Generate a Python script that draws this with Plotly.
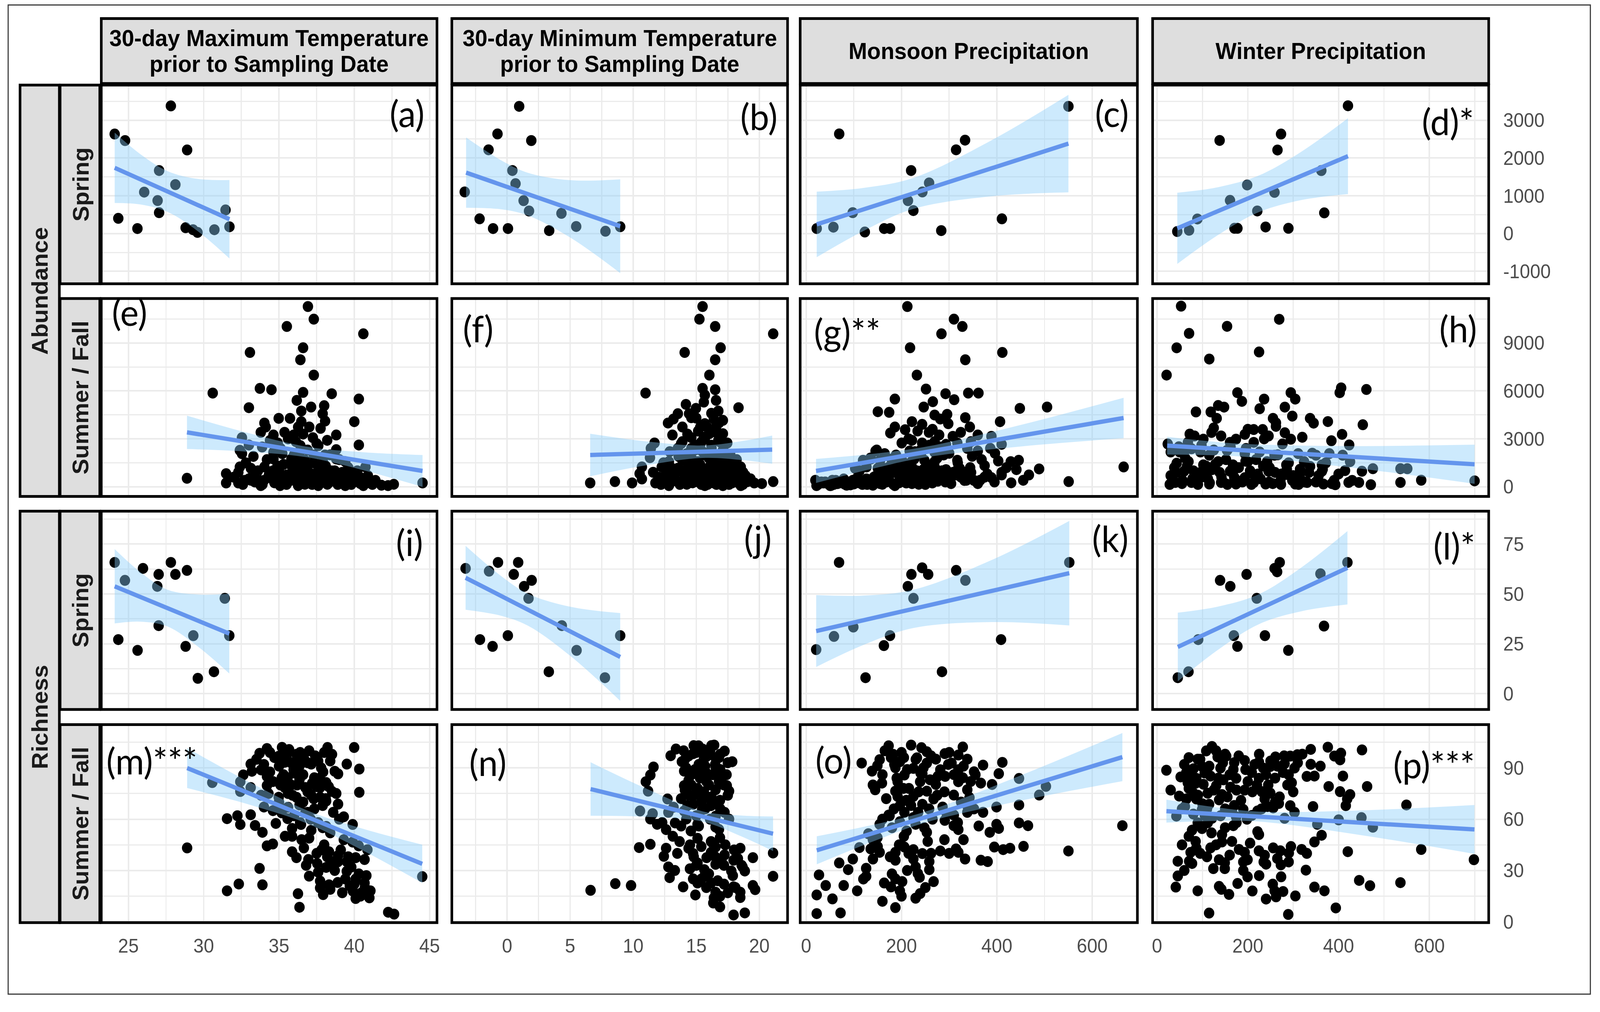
import plotly.graph_objects as go

# ---------------- text ----------------
col_titles = [["30-day Maximum Temperature", "prior to Sampling Date"],
              ["30-day Minimum Temperature", "prior to Sampling Date"],
              ["Monsoon Precipitation"],
              ["Winter Precipitation"]]
row_groups = ["Abundance", "Richness"]
row_seasons = ["Spring", "Summer / Fall", "Spring", "Summer / Fall"]
panel_labels = ["(a)", "(b)", "(c)", "(d)*", "(e)", "(f)", "(g)**", "(h)",
                "(i)", "(j)", "(k)", "(l)*", "(m)***", "(n)", "(o)", "(p)***"]

# ---------------- ticks ----------------
x_ticks = [[25, 30, 35, 40, 45], [0, 5, 10, 15, 20], [0, 200, 400, 600], [0, 200, 400, 600]]
x_minor = [[27.5, 32.5, 37.5, 42.5], [-2.5, 2.5, 7.5, 12.5, 17.5], [100, 300, 500], [100, 300, 500, 700]]
y_ticks = [[-1000, 0, 1000, 2000, 3000], [0, 3000, 6000, 9000], [0, 25, 50, 75], [0, 30, 60, 90]]
y_minor = [[-500, 500, 1500, 2500, 3500], [1500, 4500, 7500, 10500], [12.5, 37.5, 62.5, 87.5], [15, 45, 75, 105]]
x_ranges = [[23.2, 45.49], [-4.38, 22.24], [-12.45, 694.7], [-9.8, 730.8]]
y_ranges = [[-1330, 3930], [-605, 11783], [-7.95, 91.5], [-0.45, 115.3]]

# ---------------- Spring abundance ----------------
a_x = [27.82, 24.09, 24.78, 28.9, 27.04, 28.12, 26.05, 26.94, 27.04, 24.33, 25.6, 28.8, 29.29, 29.59, 30.71, 31.45, 31.71]
a_y = [3378, 2634, 2461, 2212, 1668, 1295, 1097, 873, 552, 402, 133, 154, 102, 30, 102, 625, 179]
a_fx = [24.09, 25.8, 27.6, 29.6, 31.71]
a_fy = [1740, 1435, 1113, 756, 379]
a_lo = [810, 770, 573, 65, -659]
a_hi = [2670, 2100, 1653, 1447, 1417]

b_x = [0.96, -0.76, 1.92, -1.47, 0.42, 0.67, -3.36, 1.31, 1.74, 4.31, -2.18, -1.11, 0.07, 3.34, 5.48, 7.8, 8.97]
b_y = [3367, 2637, 2461, 2216, 1668, 1320, 1101, 870, 597, 534, 389, 133, 133, 78, 187, 61, 180]
b_fx = [-3.25, -0.5, 1.65, 5.0, 8.97]
b_fy = [1613, 1294, 1044, 655, 194]
b_lo = [683, 643, 479, -103, -1046]
b_hi = [2543, 1945, 1609, 1413, 1434]

c_x = [550.1, 69.4, 333.3, 314.5, 220.2, 257.9, 243.8, 213.6, 224.9, 97.7, 410.6, 22.2, 57.2, 123.1, 163.7, 176.0, 283.4]
c_y = [3367, 2637, 2472, 2216, 1668, 1339, 1101, 870, 608, 553, 389, 133, 169, 41, 133, 133, 78]
c_fx = [22.2, 120, 225, 390, 550.1]
c_fy = [242, 638, 1064, 1732, 2381]
c_lo = [-626, 68, 654, 987, 1090]
c_hi = [1110, 1208, 1474, 2477, 3672]

d_x = [420.7, 137.9, 273.2, 265.4, 362.0, 198.6, 258.8, 160.8, 220.9, 368.5, 88.9, 44.6, 70.6, 170.6, 177.1, 239.2, 289.5]
d_y = [3382, 2465, 2634, 2211, 1667, 1286, 1090, 878, 598, 547, 386, 54, 88, 139, 139, 174, 139]
d_fx = [44.6, 135, 225, 320, 420.7]
d_fy = [139, 598, 1055, 1537, 2049]
d_lo = [-803, -33, 570, 891, 1045]
d_hi = [1081, 1229, 1540, 2183, 3053]

# ---------------- Summer / Fall abundance ----------------
e_x = [36.92, 37.31, 35.52, 40.6, 36.6, 33.07, 36.42, 37.31, 30.6, 33.73,
       34.5, 36.6, 38.5, 40.3, 36.18, 33.0, 37.13, 38.0, 36.48, 37.9,
       34.98, 35.73, 40.0, 34.03, 36.48, 37.76, 34.12, 38.8, 32.54, 33.79,
       35.37, 35.97, 37.25, 38.2, 40.3, 33.0, 33.88, 38.8, 32.4, 32.54,
       34.63, 35.22, 36.27, 37.31, 38.06, 34.63, 35.82, 36.72, 37.91, 39.4,
       40.74, 32.4, 33.13, 34.03, 34.92, 35.82, 36.72, 37.61, 38.5, 39.7,
       31.49, 32.3, 33.28, 34.33, 35.52, 36.42, 37.31, 38.21, 39.25, 40.3,
       28.89, 31.49, 32.3, 33.79, 33.79, 34.63, 35.52, 36.27, 37.01, 37.61,
       38.21, 38.95, 39.4, 40.0, 40.6, 41.04, 42.24, 42.62, 44.53, 36.72,
       35.07, 35.82, 33.13, 37.16, 38.5, 39.85, 38.8, 36.12, 36.42, 37.61,
       34.92, 34.63, 37.01, 38.06, 36.27]
e_y = [11281, 10490, 10032, 9574, 8698, 8407, 7949, 6990, 5866, 6157,
       6074, 5907, 5824, 5491, 5407, 4949, 4991, 5074, 4741, 4574,
       4283, 4283, 4075, 3991, 4075, 3658, 3741, 3241, 3074, 3408,
       3408, 3241, 3074, 2908, 2616, 2616, 2491, 2325, 2283, 2075,
       2158, 2075, 2075, 1991, 1991, 1741, 1741, 1658, 1575, 1575,
       1241, 1241, 1158, 1241, 1158, 1325, 1241, 1075, 991, 908,
       825, 908, 741, 741, 741, 658, 741, 658, 741, 658,
       533, 241, 241, 241, 75, 408, 241, 75, 241, 75,
       158, 325, 75, 325, 75, 241, 75, 158, 241, 158,
       75, 408, 408, 491, 491, 491, 1741, 2825, 2575, 2575,
       2741, 3241, 3741, 4116, 3741]
e2_x = [32.0, 32.8, 33.3, 33.6, 34.2, 34.4, 34.8, 35.1, 35.3, 35.6,
        35.9, 36.0, 36.3, 36.6, 36.9, 37.0, 37.3, 37.5, 37.8, 38.1,
        38.4, 38.7, 39.0, 39.3, 39.6, 39.9, 40.2, 40.5, 34.0, 35.0,
        36.1, 36.8, 37.4, 38.0, 33.4, 32.7, 38.6, 39.1, 41.4, 41.8,
        40.9, 35.6, 34.6, 36.5, 37.9]
e2_y = [600, 1500, 1900, 1000, 1700, 2900, 500, 2400, 1400, 3000,
        900, 2000, 1200, 3300, 2300, 900, 1500, 2700, 600, 1300,
        2000, 1000, 1700, 300, 1200, 700, 1000, 400, 400, 1000,
        400, 500, 300, 400, 300, 400, 800, 500, 400, 100,
        700, 600, 1000, 1600, 1100]
e3_x = [32.6, 33.0, 33.5, 33.9, 34.3, 34.7, 35.2, 35.5, 35.9, 36.2,
        36.5, 36.9, 37.2, 37.6, 37.9, 38.3, 38.6, 38.9, 39.2, 39.5,
        39.8, 40.1, 40.4, 40.8, 41.2, 34.9, 35.9, 36.8, 37.9, 36.4]
e3_y = [150, 500, 800, 150, 600, 250, 700, 150, 500, 850,
        250, 700, 150, 550, 850, 250, 600, 150, 900, 450,
        150, 600, 200, 450, 150, 1300, 1500, 1100, 1700, 2200]
e_fx = [28.89, 33, 36.9, 40.5, 44.53]
e_fy = [3409, 2774, 2171, 1615, 992]
e_lo = [2367, 2191, 1841, 1062, -5]
e_hi = [4451, 3357, 2501, 2168, 1989]

f_x = [15.5, 15.25, 16.5, 21.1, 16.93, 14.08, 16.5, 16.04, 10.98, 15.5,
       16.5, 15.68, 16.57, 14.18, 18.35, 14.97, 16.75, 13.54, 14.61, 16.39,
       12.76, 15.68, 13.9, 16.57, 15.15, 17.11, 13.11, 14.61, 15.68, 16.75,
       13.9, 11.69, 15.32, 17.46, 11.4, 13.54, 14.97, 16.21, 17.11, 14.25,
       15.68, 16.75, 11.33, 12.83, 13.9, 15.15, 16.39, 17.46, 10.69, 12.26,
       13.54, 14.79, 16.04, 17.28, 18.53, 10.51, 11.58, 12.83, 14.08, 15.32,
       16.57, 17.82, 18.71, 6.59, 8.55, 9.91, 10.69, 11.76, 12.83, 13.54,
       14.25, 14.97, 15.68, 16.39, 17.11, 17.82, 18.53, 19.07, 19.6, 21.1,
       16.93, 14.61, 12.26, 15.5, 13.19, 15.68, 18.0, 14.61, 16.04, 15.32,
       17.11, 13.19, 14.43]
f_y = [11281, 10490, 10032, 9574, 8698, 8407, 7949, 6990, 5866, 6157,
       6074, 5741, 5407, 5157, 4949, 4907, 4741, 4574, 4324, 4241,
       3991, 3950, 3741, 3741, 3491, 3324, 3241, 3074, 2991, 2908,
       2825, 2741, 2658, 2741, 2408, 2408, 2325, 2408, 2283, 2075,
       1991, 1908, 1825, 1575, 1658, 1575, 1491, 1658, 1241, 1241,
       1158, 1241, 1241, 1158, 1241, 825, 908, 825, 741, 825,
       741, 825, 908, 241, 325, 241, 491, 241, 75, 325,
       158, 325, 75, 241, 75, 241, 75, 325, 241, 325,
       491, 491, 491, 575, 991, 991, 1325, 2408, 3324, 3741,
       4158, 4241, 4574]
f2_x = [12.0, 12.4, 12.9, 13.3, 13.6, 13.8, 14.0, 14.3, 14.5, 14.7,
        14.9, 15.1, 15.3, 15.5, 15.6, 15.8, 16.0, 16.2, 16.4, 16.6,
        16.8, 17.0, 17.2, 17.4, 17.6, 17.9, 18.2, 18.4, 18.9, 19.3,
        20.2, 13.0, 14.2, 15.9, 16.9, 15.0, 16.2, 15.6, 14.4, 17.7]
f2_y = [600, 1500, 2200, 400, 1900, 2700, 1000, 3300, 600, 1700,
        2600, 400, 1400, 2200, 3100, 700, 1800, 2600, 1000, 3400,
        500, 1500, 2200, 800, 1300, 500, 1700, 500, 700, 500,
        200, 1200, 200, 150, 2800, 4300, 4600, 5300, 1300, 2000]
f3_x = [12.2, 12.6, 13.0, 13.4, 13.7, 14.1, 14.4, 14.7, 15.0, 15.2,
        15.4, 15.7, 15.9, 16.1, 16.3, 16.6, 16.8, 17.1, 17.3, 17.6,
        17.9, 18.1, 18.4, 18.7, 19.0, 14.6, 15.4, 16.5, 15.9, 16.8]
f3_y = [150, 800, 300, 900, 150, 600, 1000, 250, 800, 1200,
        150, 500, 1000, 300, 700, 150, 1100, 400, 900, 150,
        1000, 300, 900, 150, 400, 2100, 2800, 1900, 3700, 4000]
f_fx = [6.59, 11, 15.5, 18.5, 21.02]
f_fy = [1991, 2093, 2197, 2266, 2325]
f_lo = [658, 1340, 1807, 1686, 1444]
f_hi = [3324, 2846, 2587, 2846, 3206]

g_x = [212.3, 310, 327.6, 283.8, 218, 411.5, 333.8, 232.3, 251.4, 292.4,
       340, 361.4, 186.1, 310.5, 265.7, 246.6, 150.4, 174.2, 448.2, 505.3,
       269.5, 295.7, 333.8, 406.7, 281.4, 221.9, 243.3, 298.1, 186.1, 343.3,
       207.6, 233.8, 176.6, 257.6, 279, 324.3, 307.6, 360, 388.6, 200.5,
       221.9, 243.3, 269.5, 293.3, 317.1, 345.7, 386.2, 410, 145.6, 164.7,
       188.5, 217.1, 240.9, 269.5, 288.6, 360, 348.1, 119.4, 136.1, 155.2,
       179, 202.8, 226.6, 248.1, 269.5, 317.1, 402.9, 429.1, 445.8, 102.8,
       126.6, 150.4, 174.2, 198.1, 221.9, 245.7, 269.5, 293.3, 321.9, 374.3,
       441, 488.6, 665.9, 21.8, 36.1, 50.4, 67, 81.3, 98, 112.3,
       126.6, 145.6, 159.9, 174.2, 186.1, 198.1, 210, 221.9, 236.2, 250.4,
       264.7, 279, 298.1, 314.8, 336.2, 364.8, 388.6, 410, 455.3, 467.2,
       550.6, 19.4, 55.1, 78.9, 107.5, 164.7, 260, 331.4, 240.9, 281.4]
g_y = [11281, 10490, 10032, 9574, 8698, 8407, 7949, 6990, 6116, 5824,
       5866, 5866, 5491, 5449, 5324, 4991, 4699, 4658, 4908, 4991,
       4491, 4532, 4324, 4075, 4241, 4075, 3908, 3950, 3741, 3741,
       3574, 3491, 3366, 3408, 3241, 3408, 3158, 3241, 3158, 2741,
       2908, 2741, 2825, 2658, 2741, 2825, 2408, 2658, 2241, 2075,
       1991, 2241, 2075, 2158, 1991, 2241, 1908, 1658, 1741, 1658,
       1741, 1575, 1741, 1658, 1575, 1658, 1616, 1575, 1658, 1158,
       1241, 1158, 1241, 1075, 1241, 1075, 1241, 1075, 1158, 1325,
       1075, 1116, 1241, 75, 241, 75, 325, 158, 408, 241,
       491, 658, 158, 408, 75, 575, 241, 741, 158, 491,
       241, 741, 575, 741, 408, 408, 575, 741, 408, 741,
       325, 408, 408, 491, 575, 825, 908, 908, 2325, 2491]
g2_x = [25, 32, 45, 58, 62, 74, 88, 93, 105, 118,
        130, 140, 152, 160, 168, 182, 190, 195, 205, 215,
        228, 232, 245, 252, 258, 266, 275, 285, 292, 300,
        308, 318, 325, 338, 344, 352, 368, 380, 396, 420,
        135, 112, 148, 215, 265]
g2_y = [150, 300, 200, 150, 400, 250, 300, 120, 250, 150,
        300, 100, 400, 1200, 300, 900, 1500, 250, 1300, 600,
        2200, 1000, 400, 1400, 2600, 700, 1800, 1000, 300, 2100,
        900, 1500, 600, 2400, 1200, 400, 1700, 800, 2100, 1200,
        1800, 1000, 2300, 3000, 3600]
g3_x = [40, 52, 66, 85, 100, 115, 128, 142, 155, 170,
        183, 196, 208, 222, 236, 250, 262, 276, 290, 304,
        318, 332, 346, 360, 374, 395, 410, 430, 222, 280]
g3_y = [300, 80, 200, 100, 180, 400, 150, 600, 200, 700,
        150, 500, 900, 200, 700, 150, 1000, 350, 800, 200,
        1100, 400, 900, 200, 600, 300, 900, 250, 1600, 2300]
g_fx = [20.8, 135, 250, 450, 665.8]
g_fy = [992, 1579, 2170, 3198, 4307]
g_lo = [242, 1106, 1840, 2524, 3040]
g_hi = [1742, 2052, 2500, 3872, 5574]

h_x = [53, 70.6, 43.2, 154.3, 269.2, 115.1, 224.8, 21, 177.1, 405.7,
       461.3, 402.5, 294.7, 304.5, 186.9, 235.9, 134.7, 147.7, 85.7, 118.3,
       226.1, 281.6, 131.4, 255.5, 298, 337.2, 376.4, 345, 453.4, 124.9,
       213, 262, 193.4, 232.7, 281.6, 82.4, 102, 141.2, 173.9, 245.7,
       294.7, 407.7, 68, 160.8, 213, 384.2, 276.4, 423.4, 30.1, 49.7,
       75.9, 95.5, 115.1, 154.3, 193.4, 226.1, 258.8, 311, 350.2, 379.6,
       409, 43.2, 69.3, 102, 134.7, 167.3, 200, 242.4, 284.9, 324,
       363.3, 425.3, 59.5, 92.2, 121.6, 160.8, 206.5, 245.7, 284.9, 337.2,
       363.3, 414.2, 451.5, 475.6, 536.4, 551.4, 40, 75.9, 115.1, 141.2,
       173.9, 213, 239.2, 271.8, 304.5, 330.6, 366.5, 392.7, 422.1, 444.9,
       471.1, 536.4, 582.1, 699.7, 23.6, 193.4, 314.3, 95.5]
h_y = [11305, 9600, 8697, 10041, 10482, 7995, 8436, 6992, 5889, 6190,
       6089, 5889, 5889, 5488, 5347, 5488, 5087, 4986, 4685, 4685,
       4886, 4986, 4284, 4284, 4424, 4284, 4083, 3983, 3883, 3682,
       3582, 3782, 3281, 3582, 3381, 3181, 2980, 3181, 2980, 3181,
       2980, 3281, 2779, 2779, 2779, 2879, 2679, 2619, 2177, 2177,
       2378, 2177, 1977, 2278, 2077, 2177, 1977, 2077, 1977, 2077,
       1977, 1475, 1576, 1375, 1576, 1375, 1576, 1576, 1375, 1576,
       1375, 1576, 974, 873, 1074, 974, 873, 974, 773, 1275,
       974, 1014, 974, 1134, 1134, 1134, 272, 272, 171, 272,
       171, 272, 171, 372, 171, 272, 171, 131, 272, 272,
       131, 272, 412, 372, 2679, 572, 673, 572]
h2_x = [30, 38, 48, 56, 62, 80, 88, 98, 108, 112,
        125, 138, 146, 152, 162, 170, 180, 188, 196, 205,
        218, 228, 236, 248, 255, 266, 274, 290, 298, 315,
        325, 342, 356, 372, 390, 120, 200, 72, 262, 320]
h2_y = [700, 1200, 2500, 400, 1800, 1000, 300, 2600, 1300, 500,
        2300, 900, 300, 1700, 2500, 600, 1200, 300, 2400, 1000,
        1700, 500, 3000, 1200, 200, 2000, 800, 1500, 400, 1100,
        300, 2100, 700, 1500, 400, 3400, 3600, 3300, 4000, 3100]
h3_x = [28, 42, 55, 66, 78, 90, 103, 116, 128, 142,
        155, 168, 182, 195, 208, 222, 234, 247, 260, 273,
        286, 300, 312, 335, 350, 365, 385, 400, 430, 60]
h3_y = [150, 900, 200, 1300, 500, 150, 900, 250, 1400, 600,
        150, 1000, 350, 1600, 150, 800, 1300, 300, 900, 150,
        1100, 700, 150, 900, 300, 1100, 200, 800, 400, 2200]
h_fx = [22.3, 110, 190, 420, 699.7]
h_fy = [2574, 2423, 2286, 1891, 1411]
h_lo = [2022, 1984, 1886, 1233, 187]
h_hi = [3126, 2862, 2686, 2549, 2635]

# ---------------- Spring richness ----------------
i_x = [24.09, 24.77, 25.97, 27.01, 27.82, 28.12, 28.89, 26.92, 31.4, 27.01, 24.33, 29.31, 31.7, 25.61, 28.8, 30.68, 29.61]
i_y = [65.8, 56.8, 62.8, 59.8, 65.8, 59.8, 61.8, 53.8, 47.8, 34.1, 27.1, 29.1, 29.1, 21.7, 23.7, 11.0, 7.7]
i_fx = [24.09, 25.8, 27.6, 29.6, 31.7]
i_fy = [53.8, 48.5, 42.9, 36.7, 30.1]
i_lo = [35.2, 36.1, 33.7, 23.7, 10.1]
i_hi = [72.5, 60.9, 52.1, 49.7, 50.1]

j_x = [-3.29, -1.43, -0.72, 0.88, 0.53, 1.95, 1.35, 1.7, 4.34, -2.15, 0.06, -1.15, 8.97, 5.51, 3.31, 7.76]
j_y = [62.8, 61.4, 65.8, 65.8, 59.8, 56.8, 53.8, 47.8, 34.1, 27.1, 29.1, 23.7, 29.1, 21.7, 11.0, 8.0]
j_fx = [-3.29, -0.5, 1.65, 5.0, 8.97]
j_fy = [58.1, 49.1, 42.1, 31.3, 18.4]
j_lo = [42.1, 39.1, 34.1, 19.0, -3.6]
j_hi = [74.1, 59.1, 50.1, 43.6, 40.4]

k_x = [69.1, 551.9, 243.3, 220.8, 256.0, 314.7, 334.0, 213.3, 225.1, 99.0, 58.4, 175.9, 408.8, 21.1, 163.1, 284.9, 124.6]
k_y = [65.8, 65.8, 63.1, 59.8, 59.8, 61.8, 56.8, 53.8, 47.8, 33.4, 28.7, 29.1, 27.1, 22.1, 24.1, 11.0, 8.0]
k_fx = [21.1, 120, 225, 390, 551.9]
k_fy = [31.4, 36.8, 42.5, 51.5, 60.4]
k_lo = [13.4, 24.4, 32.9, 35.9, 34.2]
k_hi = [49.4, 49.2, 52.1, 67.1, 86.6]

l_x = [419.5, 270.3, 259.0, 264.6, 360.0, 197.3, 138.9, 161.4, 219.7, 367.9, 169.2, 237.7, 90.7, 177.1, 289.3, 69.3, 45.7]
l_y = [65.8, 65.8, 62.8, 61.1, 60.1, 59.8, 56.8, 53.8, 47.8, 33.9, 29.1, 29.1, 27.1, 23.7, 21.7, 11.0, 8.0]
l_fx = [45.7, 135, 225, 320, 419.5]
l_fy = [23.4, 32.9, 42.4, 52.5, 63.1]
l_lo = [6.2, 22.1, 34.9, 41.4, 44.7]
l_hi = [40.6, 43.7, 49.9, 63.6, 81.5]

# ---------------- Summer / Fall richness ----------------
m_x = [34.2, 33.71, 35.67, 38.22, 39.99, 38.52, 34.98, 36.16, 36.65, 35.38,
       37.14, 33.12, 39.5, 40.33, 33.81, 34.4, 35.97, 37.93, 32.63, 38.92,
       35.18, 36.36, 37.34, 38.13, 30.57, 32.43, 34.2, 35.38, 36.75, 37.73,
       40.33, 38.52, 33.12, 32.43, 33.81, 34.98, 36.16, 37.14, 38.13, 38.92,
       36.36, 34.0, 34.98, 37.34, 39.3, 39.89, 31.55, 32.24, 33.12, 32.43,
       33.41, 34.79, 35.57, 35.87, 36.46, 37.14, 38.13, 33.9, 35.87, 37.0,
       39.89, 40.29, 40.87, 28.9, 34.2, 34.59, 35.87, 36.65, 37.83, 38.32,
       38.92, 36.16, 36.95, 37.54, 38.52, 39.5, 40.09, 40.68, 38.13, 33.71,
       37.0, 39.5, 40.09, 44.51, 37.73, 38.32, 39.7, 40.68, 41.07, 40.48,
       40.09, 32.33, 33.9, 31.55, 36.26, 37.93, 36.36, 42.25, 42.64, 37.73,
       35.18, 36.75, 37.73, 35.57, 36.36]
m_y = [101.3, 98.5, 100.7, 101.9, 101.9, 97.9, 96.8, 97.9, 95.6, 93.3,
       92.2, 92.2, 92.2, 89.3, 88.8, 87.6, 88.8, 87.6, 85.9, 86.5,
       84.2, 83.1, 84.2, 81.4, 81.4, 81.9, 79.7, 78.5, 78.5, 78.5,
       75.7, 76.2, 78.5, 76.2, 74.0, 72.8, 72.8, 74.0, 70.6, 68.8,
       68.3, 67.1, 68.3, 66.0, 61.4, 56.9, 60.3, 62.0, 62.6, 56.9,
       56.3, 57.5, 60.3, 54.6, 56.9, 53.5, 55.8, 52.3, 50.0, 48.9,
       46.6, 44.4, 42.1, 43.2, 44.4, 45.5, 40.9, 43.2, 42.1, 40.9,
       38.7, 37.5, 36.4, 34.1, 35.2, 35.2, 37.5, 36.4, 31.8, 31.2,
       26.7, 29.5, 25.0, 26.4, 23.8, 21.6, 21.0, 22.7, 18.1, 17.0,
       13.6, 22.1, 21.6, 18.1, 16.4, 15.9, 8.5, 5.6, 4.5, 19.8,
       63.7, 63.7, 72.8, 84.2, 91.1]
m2_x = [33.5, 34.4, 35.0, 35.5, 36.0, 36.4, 36.9, 37.4, 37.8, 38.4,
        34.6, 35.3, 35.8, 36.6, 37.2, 37.7, 38.3, 38.8, 34.3, 35.0,
        35.9, 36.6, 37.3, 37.9, 38.6, 39.0, 36.0, 36.9, 37.6, 38.4,
        36.5, 37.5, 38.0, 38.7, 39.1, 39.4, 39.8, 40.3, 40.7, 41.0,
        40.4, 39.9, 38.9, 37.6, 36.8, 35.4]
m2_y = [95, 99, 91, 97, 87, 99, 93, 97, 90, 94,
        82, 86, 80, 86, 81, 84, 79, 75, 75, 70,
        74, 70, 72, 68, 64, 60, 62, 64, 58, 52,
        48, 40, 45, 30, 42, 25, 32, 28, 20, 14,
        15, 18, 23, 29, 33, 50]
m3_x = [33.2, 34.0, 34.7, 35.2, 35.8, 36.3, 37.0, 37.6, 38.0, 38.7,
        34.2, 35.1, 35.6, 36.2, 36.9, 37.5, 38.1, 34.6, 35.6, 36.4,
        37.1, 37.9, 39.3, 38.2, 38.9, 39.6, 40.0, 40.8, 39.2, 38.4]
m3_y = [88, 92, 96, 102, 93, 96, 100, 94, 99, 88,
        85, 80, 75, 80, 76, 79, 72, 65, 67, 58,
        60, 55, 48, 38, 35, 38, 22, 27, 17, 19]
m_fx = [28.9, 33, 36.9, 40.5, 44.51]
m_fy = [89.9, 75.2, 61.2, 48.3, 33.9]
m_lo = [78.2, 68.6, 57.4, 42.0, 22.7]
m_hi = [101.6, 81.8, 65.0, 54.6, 45.1]

n_x = [15.18, 16.42, 13.39, 17.24, 12.97, 14.75, 15.82, 17.85, 13.86, 15.28,
       16.53, 11.61, 14.04, 15.46, 17.06, 11.36, 11.0, 14.39, 15.82, 17.42,
       14.04, 15.1, 16.53, 11.18, 17.6, 14.39, 15.82, 12.72, 16.88, 14.75,
       16.17, 10.54, 11.54, 12.79, 14.04, 15.46, 17.24, 16.53, 11.36, 14.21,
       11.9, 13.32, 15.1, 16.53, 12.61, 14.57, 13.14, 10.47, 11.36, 12.61,
       14.39, 16.17, 16.53, 18.49, 21.09, 12.43, 14.75, 15.82, 17.24, 17.96,
       19.49, 15.1, 16.53, 18.67, 12.79, 15.64, 17.78, 18.85, 12.89, 14.75,
       15.64, 21.09, 16.17, 13.96, 17.96, 19.49, 19.67, 18.49, 16.53, 14.93,
       16.88, 18.49, 6.62, 8.58, 9.83, 16.88, 17.96, 18.85, 16.35, 15.1,
       16.17, 16.88, 15.1, 13.68, 15.46, 14.57, 16.53, 15.46]
n_y = [102.9, 103.3, 101.0, 99.8, 97.1, 98.3, 96.7, 93.6, 93.6, 92.0,
       90.5, 90.5, 88.1, 87.4, 85.8, 85.8, 81.9, 82.7, 81.9, 79.6,
       79.6, 78.0, 77.2, 76.4, 76.4, 74.1, 72.6, 71.8, 71.0, 68.7,
       67.9, 64.8, 63.2, 64.0, 64.8, 65.5, 64.0, 61.7, 60.1, 60.1,
       57.0, 57.8, 57.0, 55.4, 53.9, 53.1, 50.0, 43.4, 45.3, 43.0,
       43.0, 46.9, 43.7, 43.0, 40.2, 38.3, 39.9, 37.5, 39.1, 36.0,
       37.5, 34.4, 33.6, 32.1, 32.1, 30.5, 29.7, 29.7, 25.8, 25.1,
       26.6, 26.6, 22.7, 20.4, 20.4, 21.2, 18.8, 17.3, 17.3, 15.7,
       14.9, 14.2, 18.4, 22.3, 21.2, 8.7, 4.0, 5.2, 11.0, 22.7,
       40.6, 49.2, 48.8, 46.9, 74.9, 85.8, 95.9, 100.6]
n2_x = [14.4, 15.0, 15.6, 16.1, 16.8, 14.2, 14.9, 15.7, 16.3, 16.9,
        14.6, 15.3, 16.0, 16.8, 17.4, 14.8, 15.4, 16.2, 16.9, 15.7,
        14.3, 15.0, 16.1, 13.2, 12.3, 13.8, 14.5, 15.4, 16.5, 17.3,
        18.0, 15.0, 16.0, 17.2, 17.9, 18.3, 16.7, 17.5, 15.8, 14.5]
n2_y = [97, 99, 95, 100, 96, 90, 89, 91, 86, 89,
        80, 84, 80, 82, 86, 74, 70, 73, 66, 66,
        68, 62, 60, 67, 58, 56, 45, 44, 38, 45,
        42, 33, 28, 33, 27, 37, 24, 17, 20, 31]
n3_x = [14.0, 14.8, 15.5, 16.2, 16.9, 17.5, 14.1, 15.2, 16.5, 14.6,
        15.8, 17.2, 14.1, 15.6, 16.6, 17.5, 13.8, 15.2, 16.8, 17.6,
        13.5, 14.8, 16.3, 17.0, 18.6, 15.4, 16.4, 17.2, 18.1, 13.3]
n3_y = [100, 103, 101, 103, 98, 93, 95, 92, 92, 86,
        87, 80, 77, 76, 70, 74, 72, 56, 54, 60,
        40, 38, 46, 36, 33, 25, 14, 22, 20, 30]
n_fx = [6.62, 11, 15.5, 18.5, 21.09]
n_fy = [77.6, 69.7, 61.6, 56.2, 51.5]
n_lo = [62.0, 61.4, 58.6, 50.2, 41.4]
n_hi = [93.3, 78.0, 64.6, 62.2, 61.6]

o_x = [173.1, 220.2, 241.9, 328.6, 253.1, 290.8, 182.5, 319.2, 232.4, 154.2,
       272, 338, 116.5, 196.6, 253.1, 305, 411.5, 371, 149.5, 187.2,
       224.9, 281.4, 138.2, 319.2, 352.2, 243.8, 206, 404, 291.6, 328.6,
       446.5, 159, 191.9, 239.1, 272, 319.2, 366.4, 389.9, 144.8, 187.2,
       215.5, 253.1, 338, 502.9, 488.8, 191.9, 224.9, 267.3, 309.7, 342.6,
       446.5, 196.6, 243.8, 286.2, 338, 399.3, 371, 173.1, 206, 309.7,
       338, 154.2, 196.6, 229.6, 290.8, 309.7, 399.3, 446.5, 465.3, 663.2,
       130.6, 149.5, 210.8, 253.1, 319.2, 385.1, 404, 111.8, 135.4, 154.2,
       187.2, 206, 224.9, 243.8, 281.4, 314.4, 394.6, 427.6, 455.9, 550.1,
       69.4, 97.9, 140.1, 187.2, 224.9, 258.3, 333.3, 366.4, 380.7, 88.2,
       125.9, 229.6, 258.3, 27, 125.9, 41.1, 78.8, 107.1, 163.7, 177.9,
       201.4, 267.3, 196.6, 239.1, 22.2, 55.2, 229.6, 187.2, 22.2, 72.2,
       187.2, 234.3, 319.2, 413.3]
o_y = [102.9, 103.3, 101.8, 102.2, 99.4, 98.3, 97.9, 97.5, 95.9, 94.8,
       95.1, 95.1, 92.8, 93.6, 92.8, 92.8, 93.2, 91.6, 91.3, 90.1,
       89.7, 88.9, 88.1, 88.9, 87.7, 86.6, 85.8, 86.6, 85.0, 84.2,
       83.8, 81.1, 81.9, 81.9, 80.3, 81.9, 81.1, 80.3, 77.2, 76.4,
       78.0, 76.4, 77.2, 79.2, 74.1, 73.3, 73.3, 71.8, 74.1, 72.6,
       68.3, 67.9, 68.7, 67.1, 67.9, 67.1, 64.0, 62.4, 64.0, 62.4,
       64.0, 57.0, 58.5, 57.0, 59.3, 56.2, 57.0, 57.8, 56.2, 56.2,
       51.5, 49.2, 53.1, 52.3, 53.9, 52.3, 54.6, 43.4, 42.6, 40.6,
       40.6, 43.7, 42.2, 39.9, 41.4, 42.6, 43.7, 43.0, 44.1, 41.4,
       34.4, 36.7, 36.7, 36.0, 36.7, 35.2, 36.7, 36.0, 35.2, 30.5,
       31.3, 32.1, 30.5, 27.4, 26.6, 21.2, 21.2, 18.1, 22.7, 20.4,
       23.5, 23.5, 18.1, 16.5, 15.7, 13.4, 13.8, 8.3, 4.8, 5.2,
       25.1, 28.2, 40.6, 42.2]
o2_x = [140, 160, 178, 190, 200, 212, 230, 246, 262, 276,
        298, 310, 330, 345, 168, 184, 204, 220, 236, 258,
        275, 295, 325, 352, 160, 180, 205, 225, 248, 265,
        290, 318, 362, 150, 176, 212, 238, 262, 200, 120]
o2_y = [80, 86, 96, 84, 99, 89, 95, 90, 97, 85,
        92, 86, 91, 82, 72, 66, 78, 68, 76, 66,
        74, 63, 70, 66, 60, 55, 50, 61, 55, 60,
        48, 58, 56, 44, 38, 30, 26, 40, 15, 25]
o3_x = [165, 205, 240, 300, 355, 185, 260, 290, 210, 235,
        175, 140, 195, 255, 300, 330, 215, 180, 250, 160]
o3_y = [100, 96, 87, 99, 86, 92, 83, 76, 71, 64,
        62, 48, 45, 47, 40, 48, 40, 28, 20, 12]
o_fx = [22.3, 135, 250, 450, 663.2]
o_fy = [41.8, 51.4, 61.2, 78.2, 96.3]
o_lo = [33.6, 46.4, 58.0, 70.8, 82.2]
o_hi = [50.0, 56.4, 64.4, 85.6, 110.4]

p_x = [121, 108.4, 133.5, 152.4, 89.6, 193.1, 224.5, 260.9, 293.5, 309.2,
       338.7, 376.3, 405.2, 390.8, 403.3, 451.6, 338.7, 281, 302.9, 249.6,
       20.6, 80.2, 99.1, 139.8, 168.1, 208.8, 234, 64.5, 52, 86.5,
       117.8, 146.1, 174.3, 224.5, 277.8, 346.8, 409.6, 67.7, 102.2, 130.4,
       161.8, 193.1, 287.3, 296.7, 378.2, 462.9, 30, 48.8, 80.2, 111.6,
       143, 230.8, 249.6, 403.3, 425.3, 419, 64.5, 86.5, 136.7, 237.1,
       268.4, 243.3, 255.9, 343.7, 415.9, 293.5, 549.5, 114.7, 61.4, 99.1,
       164.9, 190, 221.4, 302.9, 42.6, 105.3, 121, 174.3, 208.8, 281,
       400.2, 450.4, 353.1, 475.5, 89.6, 111.6, 168.1, 77.1, 99.1, 143,
       221.4, 224.5, 362.6, 143, 346.8, 86.5, 117.8, 180.6, 73.9, 193.1,
       224.5, 255.9, 271.6, 290.4, 318.6, 420.3, 582.1, 698.2, 45.7, 70.8,
       136.7, 199.4, 237.1, 240.2, 149.2, 77.1, 149.2, 124.1, 272.8, 328,
       45.7, 199.4, 273.4, 177.5, 41.3, 136.7, 141.7, 445.4, 469.2, 536.3,
       346.8, 368.8, 89.6, 158.6, 240.2, 262.2, 277.8, 304.8, 259, 393.9,
       114.7, 289.1]
p_y = [102.5, 99.9, 96.4, 96.9, 95.1, 94.3, 93.4, 96.4, 96.9, 97.7,
       100.8, 102.1, 98.6, 96.9, 94.7, 100.5, 92.1, 92.5, 89.9, 90.8,
       88.6, 89.5, 90.8, 89.9, 89.1, 87.3, 89.9, 87.3, 84.7, 83.9,
       85.2, 83.0, 83.9, 83.9, 87.3, 85.2, 85.2, 81.3, 80.4, 79.6,
       78.7, 77.0, 80.0, 81.3, 79.1, 79.1, 77.0, 73.5, 75.2, 75.2,
       74.4, 76.1, 75.2, 76.1, 74.4, 71.8, 71.8, 71.8, 71.3, 71.8,
       69.2, 67.4, 66.6, 67.4, 67.9, 67.9, 68.3, 68.7, 67.4, 65.7,
       64.8, 65.7, 64.8, 64.0, 61.8, 62.2, 60.5, 61.4, 62.2, 60.5,
       59.6, 60.9, 57.0, 55.3, 57.9, 57.9, 56.2, 53.6, 54.5, 51.0,
       52.7, 51.0, 50.6, 46.7, 46.7, 43.2, 43.2, 42.3, 40.6, 40.6,
       41.5, 43.2, 41.5, 40.2, 42.3, 41.0, 42.3, 36.3, 35.4, 35.4,
       36.3, 36.3, 38.9, 33.7, 34.5, 34.1, 31.1, 31.1, 33.3, 30.2,
       26.8, 26.3, 26.3, 22.4, 20.3, 20.7, 19.0, 24.2, 21.1, 22.9,
       20.3, 18.1, 18.1, 16.0, 13.3, 14.6, 17.7, 15.1, 18.1, 8.1,
       5.1, 4.3]
p2_x = [60, 75, 95, 115, 130, 145, 160, 180, 200, 215,
        240, 265, 290, 310, 330, 70, 90, 125, 155, 185,
        210, 245, 270, 300, 55, 80, 110, 140, 170, 198,
        230, 85, 110, 130, 160, 205, 235, 265, 295, 255,
        190, 60]
p2_y = [92, 85, 95, 91, 100, 93, 86, 97, 82, 92,
        86, 91, 86, 93, 85, 78, 74, 77, 73, 71,
        76, 80, 73, 76, 66, 63, 66, 62, 68, 60,
        66, 47, 38, 45, 39, 46, 35, 37, 44, 22,
        30, 30]
p3_x = [70, 105, 150, 170, 195, 225, 250, 280, 320, 360,
        85, 135, 175, 220, 260, 100, 150, 175, 260, 120,
        150, 95, 190, 225, 165, 290, 70, 55, 210, 330]
p3_y = [96, 87, 98, 93, 89, 98, 94, 97, 98, 91,
        81, 84, 77, 80, 84, 69, 66, 58, 70, 52,
        55, 40, 35, 27, 47, 35, 50, 45, 18, 40]
p_fx = [20.6, 120, 225, 450, 699.4]
p_fy = [64.7, 63.1, 61.5, 57.9, 54.0]
p_lo = [58.0, 58.9, 58.6, 50.65, 39.7]
p_hi = [71.4, 67.3, 64.4, 65.15, 68.3]

panels = [
    (a_x, a_y, a_fx, a_fy, a_lo, a_hi), (b_x, b_y, b_fx, b_fy, b_lo, b_hi),
    (c_x, c_y, c_fx, c_fy, c_lo, c_hi), (d_x, d_y, d_fx, d_fy, d_lo, d_hi),
    (e_x + e2_x + e3_x, e_y + e2_y + e3_y, e_fx, e_fy, e_lo, e_hi),
    (f_x + f2_x + f3_x, f_y + f2_y + f3_y, f_fx, f_fy, f_lo, f_hi),
    (g_x + g2_x + g3_x, g_y + g2_y + g3_y, g_fx, g_fy, g_lo, g_hi),
    (h_x + h2_x + h3_x, h_y + h2_y + h3_y, h_fx, h_fy, h_lo, h_hi),
    (i_x, i_y, i_fx, i_fy, i_lo, i_hi), (j_x, j_y, j_fx, j_fy, j_lo, j_hi),
    (k_x, k_y, k_fx, k_fy, k_lo, k_hi), (l_x, l_y, l_fx, l_fy, l_lo, l_hi),
    (m_x + m2_x + m3_x, m_y + m2_y + m3_y, m_fx, m_fy, m_lo, m_hi),
    (n_x + n2_x + n3_x, n_y + n2_y + n3_y, n_fx, n_fy, n_lo, n_hi),
    (o_x + o2_x + o3_x, o_y + o2_y + o3_y, o_fx, o_fy, o_lo, o_hi),
    (p_x + p2_x + p3_x, p_y + p2_y + p3_y, p_fx, p_fy, p_lo, p_hi),
]

# ---------------- layout geometry (pixels) ----------------
W, H = 4303, 2590
COLS = [(271, 1176), (1216, 2121), (2155, 3064), (3105, 4011)]
ROWS = [(220, 734), (772, 1284), (1322, 1835), (1874, 2386)]
HEAD_Y = (48, 216)
INNER_X = (160, 267)
OUTER_X = (52, 158)
LABEL_POS = [(1144, 292, 'right'), (2096, 300, 'right'), (3043, 292, 'right'), (3973, 313, 'right'),
             (298, 806, 'left'), (1244, 848, 'left'), (2190, 856, 'left'), (3981, 848, 'right'),
             (1141, 1401, 'right'), (2080, 1391, 'right'), (3042, 1391, 'right'), (3976, 1410, 'right'),
             (283, 1966, 'left'), (1261, 1970, 'left'), (2194, 1964, 'left'), (3975, 1976, 'right')]

GRID = '#EBEBEB'
STRIP = '#DEDEDE'
RIBBON = 'rgba(135,206,250,0.42)'
LINE = '#6495ED'
SANS = 'Liberation Sans, Arial, sans-serif'
tickfont = dict(family=SANS, size=50, color='#4D4D4D')


def px_x(v):
    return v / W


def px_y(v):
    return 1 - v / H


fig = go.Figure()
layout = {}
for idx, (xs, ys, fx, fy, flo, fhi) in enumerate(panels):
    r, c = divmod(idx, 4)
    k = idx + 1
    sx = '' if k == 1 else str(k)
    xr, yr = 'x' + sx, 'y' + sx
    n = min(len(xs), len(ys))
    fig.add_trace(go.Scatter(x=xs[:n], y=ys[:n], mode='markers',
                             marker=dict(color='black', size=28, line=dict(width=0)),
                             xaxis=xr, yaxis=yr, hoverinfo='skip', showlegend=False))
    fig.add_trace(go.Scatter(x=fx, y=flo, mode='lines', line=dict(width=0, shape='spline', color=RIBBON),
                             xaxis=xr, yaxis=yr, hoverinfo='skip', showlegend=False))
    fig.add_trace(go.Scatter(x=fx, y=fhi, mode='lines', line=dict(width=0, shape='spline', color=RIBBON),
                             fill='tonexty', fillcolor=RIBBON,
                             xaxis=xr, yaxis=yr, hoverinfo='skip', showlegend=False))
    fig.add_trace(go.Scatter(x=fx, y=fy, mode='lines', line=dict(width=11, color=LINE),
                             xaxis=xr, yaxis=yr, hoverinfo='skip', showlegend=False))

    layout['xaxis' + sx] = dict(
        domain=[px_x(COLS[c][0]), px_x(COLS[c][1])], range=x_ranges[c], anchor=yr,
        tickmode='array', tickvals=x_ticks[c], ticktext=[str(v) for v in x_ticks[c]],
        showticklabels=(r == 3), ticks='outside' if r == 3 else '', ticklen=16,
        tickcolor='rgba(0,0,0,0)', tickfont=tickfont,
        showgrid=True, gridcolor=GRID, gridwidth=4, zeroline=False, showline=False,
        minor=dict(tickmode='array', tickvals=x_minor[c], showgrid=True, gridcolor=GRID, gridwidth=3, ticks=''),
        fixedrange=True)
    layout['yaxis' + sx] = dict(
        domain=[px_y(ROWS[r][1]), px_y(ROWS[r][0])], range=y_ranges[r], anchor=xr, side='right',
        tickmode='array', tickvals=y_ticks[r], ticktext=[str(v) for v in y_ticks[r]],
        showticklabels=(c == 3), ticks='outside' if c == 3 else '', ticklen=28,
        tickcolor='rgba(0,0,0,0)', tickfont=tickfont,
        showgrid=True, gridcolor=GRID, gridwidth=4, zeroline=False, showline=False,
        minor=dict(tickmode='array', tickvals=y_minor[r], showgrid=True, gridcolor=GRID, gridwidth=3, ticks=''),
        fixedrange=True)


def rect(x0, y0, x1, y1, fill=None, lw=7, color='black', layer='above'):
    d = dict(type='rect', xref='paper', yref='paper', x0=px_x(x0), x1=px_x(x1),
             y0=px_y(y1), y1=px_y(y0), line=dict(color=color, width=lw), layer=layer)
    if fill:
        d['fillcolor'] = fill
    return d


shapes = []
shapes.append(rect(20, 13, 4285, 2571, lw=3, color='#3a3a3a'))
for c in range(4):
    shapes.append(rect(COLS[c][0], HEAD_Y[0], COLS[c][1], HEAD_Y[1], fill=STRIP))
for r in range(4):
    shapes.append(rect(INNER_X[0], ROWS[r][0], INNER_X[1], ROWS[r][1], fill=STRIP))
shapes.append(rect(OUTER_X[0], ROWS[0][0], OUTER_X[1], ROWS[1][1], fill=STRIP))
shapes.append(rect(OUTER_X[0], ROWS[2][0], OUTER_X[1], ROWS[3][1], fill=STRIP))
for r in range(4):
    for c in range(4):
        shapes.append(rect(COLS[c][0], ROWS[r][0], COLS[c][1], ROWS[r][1]))

ann = []
head_font = dict(family=SANS, size=60, color='black')
for c, lines in enumerate(col_titles):
    cx = (COLS[c][0] + COLS[c][1]) / 2
    ys_ = [132] if len(lines) == 1 else [99, 165]
    for t, yy in zip(lines, ys_):
        ann.append(dict(x=px_x(cx), y=px_y(yy), xref='paper', yref='paper', text='<b>%s</b>' % t,
                        showarrow=False, xanchor='center', yanchor='middle', font=head_font))
strip_font = dict(family=SANS, size=60, color='#1a1a1a')
for r, t in enumerate(row_seasons):
    cy = (ROWS[r][0] + ROWS[r][1]) / 2
    ann.append(dict(x=px_x((INNER_X[0] + INNER_X[1]) / 2 + 2), y=px_y(cy), xref='paper', yref='paper',
                    text='<b>%s</b>' % t, textangle=-90, showarrow=False,
                    xanchor='center', yanchor='middle', font=strip_font))
for g, t in enumerate(row_groups):
    cy = (ROWS[2 * g][0] + ROWS[2 * g + 1][1]) / 2
    ann.append(dict(x=px_x((OUTER_X[0] + OUTER_X[1]) / 2 + 1), y=px_y(cy), xref='paper', yref='paper',
                    text='<b>%s</b>' % t, textangle=-90, showarrow=False,
                    xanchor='center', yanchor='middle', font=strip_font))
lab_font = dict(family='Lato, Carlito, Open Sans, sans-serif', size=94, color='black')
for t, (lx, ly, anc) in zip(panel_labels, LABEL_POS):
    ann.append(dict(x=px_x(lx), y=px_y(ly), xref='paper', yref='paper', text=t, showarrow=False,
                    xanchor=anc, yanchor='middle', font=lab_font))

fig.update_layout(**layout)
fig.update_layout(width=W, height=H, autosize=False, margin=dict(l=0, r=0, t=0, b=0),
                  paper_bgcolor='white', plot_bgcolor='white', showlegend=False,
                  shapes=shapes, annotations=ann)

# fit the fixed-size figure exactly into the browser viewport
fit_js = """
document.documentElement.style.margin = '0';
document.body.style.margin = '0';
document.body.style.overflow = 'hidden';
var gd = document.getElementById('{plot_id}');
var sx = window.innerWidth / %d, sy = window.innerHeight / %d;
if (Math.abs(sx - 1) > 0.002 || Math.abs(sy - 1) > 0.002) {
  gd.style.transformOrigin = '0 0';
  gd.style.transform = 'scale(' + sx + ',' + sy + ')';
}
""" % (W, H)

fig.write_html("out.html", post_script=fit_js, config={'displayModeBar': False, 'staticPlot': True})
